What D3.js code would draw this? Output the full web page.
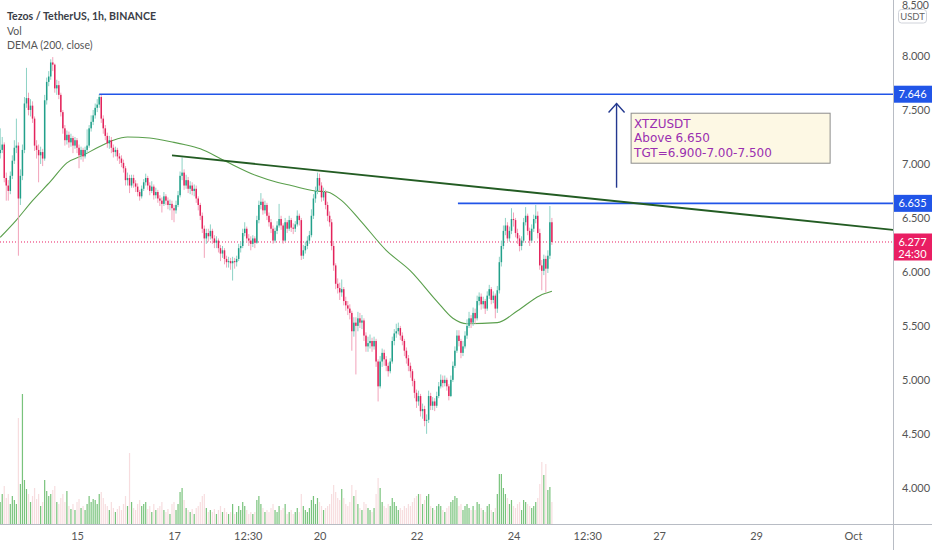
<!DOCTYPE html>
<html><head><meta charset="utf-8">
<script src="https://cdn.jsdelivr.net/npm/d3@7"></script>
<style>
html,body{margin:0;padding:0;background:#fff;}
svg{display:block;}
</style>
</head><body>
<svg id="c" width="932" height="550"></svg>
<script>
// ---------------- DATA ----------------
const title = "Tezos / TetherUS, 1h, BINANCE";
const legendLines = ["Vol", "DEMA (200, close)"];
const firstOpen = 7.10;
const closes = [
7.13,7.18,6.87,6.80,6.75,6.89,7.03,7.15,7.17,6.68,
6.89,7.13,7.56,7.61,7.50,7.54,7.42,7.17,7.13,7.08,
7.11,7.05,7.59,7.76,7.81,7.94,7.92,7.70,7.73,7.64,
7.48,7.33,7.22,7.27,7.20,7.24,7.17,7.22,7.15,7.08,
7.13,7.07,7.13,7.17,7.33,7.39,7.45,7.52,7.55,7.62,
7.42,7.33,7.26,7.19,7.22,7.15,7.11,7.13,7.07,7.05,
7.01,6.96,6.85,6.87,6.80,6.87,6.82,6.79,6.74,6.70,
6.77,6.83,6.87,6.80,6.75,6.79,6.71,6.74,6.68,6.66,
6.63,6.70,6.66,6.62,6.63,6.59,6.57,6.62,6.71,6.89,
6.92,6.80,6.85,6.77,6.80,6.75,6.77,6.68,6.62,6.52,
6.40,6.31,6.36,6.33,6.38,6.31,6.27,6.29,6.22,6.17,
6.20,6.12,6.09,6.10,6.08,6.10,6.09,6.12,6.22,6.24,
6.36,6.40,6.31,6.29,6.26,6.31,6.27,6.48,6.62,6.65,
6.57,6.62,6.52,6.46,6.40,6.29,6.38,6.43,6.49,6.43,
6.29,6.46,6.40,6.48,6.41,6.40,6.44,6.52,6.48,6.15,
6.20,6.24,6.29,6.34,6.52,6.68,6.75,6.87,6.80,6.69,
6.74,6.62,6.52,6.46,6.24,6.06,5.89,5.85,5.81,5.84,
5.73,5.69,5.66,5.62,5.45,5.53,5.50,5.57,5.53,5.55,
5.41,5.31,5.34,5.36,5.31,5.36,5.17,4.94,5.17,5.25,
5.19,5.13,5.08,5.17,5.36,5.43,5.45,5.48,5.41,5.36,
5.27,5.20,5.13,5.08,4.99,4.88,4.80,4.85,4.71,4.73,
4.62,4.63,4.85,4.76,4.80,4.76,4.85,4.94,5.00,4.97,
5.00,4.94,4.85,5.00,5.13,5.27,5.41,5.36,5.25,5.31,
5.41,5.50,5.57,5.53,5.62,5.57,5.73,5.77,5.70,5.73,
5.66,5.78,5.84,5.74,5.78,5.66,5.83,6.09,6.24,6.38,
6.43,6.31,6.38,6.49,6.48,6.36,6.31,6.24,6.29,6.46,
6.52,6.38,6.29,6.40,6.49,6.52,6.36,6.06,6.01,6.12,
6.03,6.15,6.46,6.277];
const highs = [
7.33,7.25,7.20,6.92,6.85,6.93,7.08,7.22,7.42,7.20,
6.95,7.18,7.62,7.89,7.66,7.60,7.58,7.44,7.22,7.18,
7.16,7.14,7.64,7.80,7.86,7.97,7.99,7.93,7.78,7.77,
7.66,7.50,7.36,7.31,7.30,7.28,7.26,7.25,7.24,7.18,
7.16,7.15,7.16,7.32,7.36,7.45,7.50,7.56,7.60,7.646,
7.64,7.45,7.36,7.29,7.26,7.25,7.18,7.16,7.15,7.10,
7.08,7.04,6.98,6.92,6.90,6.90,6.90,6.85,6.82,6.76,
6.80,6.86,6.91,6.89,6.83,6.84,6.81,6.78,6.76,6.71,
6.69,6.74,6.72,6.69,6.67,6.66,6.62,6.66,6.75,6.93,
7.06,6.95,6.90,6.88,6.84,6.83,6.81,6.80,6.70,6.64,
6.55,6.43,6.40,6.40,6.44,6.40,6.34,6.33,6.31,6.25,
6.24,6.22,6.15,6.14,6.13,6.14,6.13,6.15,6.26,6.28,
6.40,6.46,6.42,6.35,6.33,6.34,6.33,6.52,6.66,6.73,
6.68,6.66,6.64,6.55,6.49,6.43,6.41,6.47,6.63,6.52,
6.45,6.50,6.48,6.52,6.50,6.45,6.47,6.57,6.54,6.50,
6.25,6.28,6.33,6.38,6.58,6.72,6.79,6.92,6.91,6.83,
6.78,6.76,6.65,6.56,6.49,6.27,6.08,5.94,5.90,5.93,
5.86,5.77,5.73,5.70,5.64,5.58,5.58,5.63,5.62,5.60,
5.57,5.44,5.40,5.42,5.39,5.40,5.38,5.19,5.22,5.29,
5.28,5.22,5.16,5.20,5.40,5.47,5.52,5.53,5.50,5.44,
5.38,5.30,5.23,5.16,5.10,5.01,4.91,4.90,4.87,4.78,
4.76,4.68,4.90,4.88,4.84,4.83,4.89,4.98,5.05,5.04,
5.04,5.02,4.96,5.04,5.17,5.31,5.46,5.46,5.38,5.36,
5.45,5.56,5.63,5.60,5.67,5.66,5.78,5.81,5.80,5.77,
5.75,5.82,5.88,5.86,5.82,5.80,5.87,6.14,6.29,6.43,
6.50,6.46,6.42,6.59,6.55,6.50,6.40,6.34,6.33,6.50,
6.60,6.54,6.41,6.44,6.53,6.62,6.56,6.40,6.11,6.16,
6.15,6.20,6.61,6.50];
const lows = [
7.05,7.10,6.83,6.66,6.66,6.72,6.86,7.00,7.10,6.15,
6.62,6.85,7.10,7.52,7.45,7.44,7.38,7.12,7.05,6.83,
7.00,6.98,7.03,7.55,7.72,7.78,7.86,7.66,7.64,7.60,
7.44,7.28,7.17,7.18,7.15,7.16,7.10,7.14,7.10,6.96,
7.04,7.02,7.05,7.10,7.15,7.30,7.36,7.42,7.48,7.52,
7.38,7.28,7.22,7.15,7.14,7.10,7.06,7.07,7.03,7.00,
6.97,6.92,6.80,6.80,6.73,6.78,6.78,6.74,6.70,6.66,
6.68,6.75,6.80,6.76,6.71,6.73,6.67,6.68,6.64,6.61,
6.55,6.61,6.62,6.58,6.57,6.48,6.46,6.54,6.60,6.69,
6.85,6.76,6.77,6.73,6.72,6.71,6.70,6.64,6.57,6.48,
6.36,6.13,6.26,6.28,6.30,6.26,6.22,6.22,6.18,6.10,
6.13,6.07,6.04,6.04,6.02,5.92,6.03,6.05,6.10,6.18,
6.22,6.33,6.27,6.24,6.20,6.23,6.22,6.26,6.45,6.58,
6.53,6.54,6.48,6.42,6.36,6.26,6.27,6.35,6.41,6.39,
6.26,6.28,6.36,6.38,6.37,6.35,6.37,6.42,6.43,6.11,
6.12,6.17,6.21,6.26,6.32,6.49,6.64,6.72,6.75,6.65,
6.66,6.58,6.47,6.42,6.20,6.01,5.84,5.80,5.74,5.77,
5.69,5.64,5.60,5.56,5.27,5.40,5.05,5.45,5.48,5.47,
5.36,5.26,5.26,5.29,5.26,5.28,5.12,4.80,4.92,5.12,
5.13,5.08,5.03,5.06,5.15,5.32,5.39,5.42,5.37,5.32,
5.22,5.15,5.08,5.02,4.94,4.83,4.74,4.76,4.66,4.64,
4.57,4.50,4.60,4.72,4.72,4.71,4.74,4.83,4.92,4.93,
4.94,4.90,4.81,4.84,4.98,5.11,5.25,5.31,5.20,5.22,
5.29,5.38,5.48,5.48,5.50,5.52,5.55,5.69,5.65,5.66,
5.61,5.64,5.75,5.70,5.71,5.57,5.62,5.80,6.05,6.21,
6.34,6.27,6.28,6.35,6.42,6.32,6.26,6.19,6.20,6.27,
6.43,6.34,6.24,6.27,6.37,6.45,6.31,6.02,5.83,5.97,
5.81,5.99,6.12,6.25];
const volumes = [
22,30,38,26,30,20,28,24,20,106,
40,130,44,35,30,22,28,36,25,30,
18,22,44,33,28,30,34,38,22,20,
26,30,22,33,18,15,20,14,22,25,
16,18,14,20,28,22,25,24,20,30,
32,26,20,18,14,22,16,12,15,18,
14,20,28,18,71,22,16,14,20,24,
18,20,22,15,18,12,20,14,16,18,
22,14,12,15,10,20,22,14,20,32,
36,24,16,14,12,15,10,16,18,22,
28,30,16,12,14,12,15,10,14,18,
12,16,12,10,12,20,10,12,18,14,
22,18,14,10,12,10,12,24,28,20,
16,12,14,12,16,20,14,12,18,14,
16,20,10,12,14,10,12,16,12,30,
18,14,12,16,24,28,20,26,22,18,
14,16,18,20,30,39,32,26,24,35,
26,20,18,22,39,28,34,20,16,14,
22,20,16,14,12,16,30,46,36,22,
18,16,20,18,26,22,18,14,16,14,
18,16,20,18,22,26,28,30,30,20,
24,28,30,18,16,14,18,20,18,14,
12,16,18,22,24,28,26,18,20,14,
18,20,16,14,18,14,22,20,16,14,
12,18,20,14,12,16,30,50,50,36,
30,26,20,24,18,16,20,22,14,24,
22,20,18,16,18,22,26,40,62,49,
60,34,37,22];
// DEMA(200, close) read at selected bars
const demaIdx = [0,8,16,25,33,41,49,56,63,74,86,91,99,111,127,137,144,156,162,169,178,191,203,216,224,231,246,256,267,273];
const demaVal = [6.32,6.48,6.66,6.84,7.01,7.08,7.16,7.22,7.25,7.24,7.20,7.18,7.14,7.03,6.89,6.83,6.80,6.75,6.74,6.66,6.48,6.20,6.01,5.73,5.57,5.52,5.53,5.64,5.78,5.82];
// time axis: bar index (1h bars, index 38 = Sep 15 00:00)
const timeTickIdx = [38, 86, 122.5, 158, 206, 254, 290.5, 326, 374, 422];
const timeTickLabels = ["15","17","12:30","20","22","24","12:30","27","29","Oct"];
const priceTicks = [4.0,4.5,5.0,5.5,6.0,6.5,7.0,7.5,8.0];
const topTick = 8.5;
// drawings
const resistanceHigh = {from: 49, price: 7.646};
const resistanceLow  = {from: 226.5, price: 6.635};
const trendPts = [[85, 7.08], [441.8, 6.39]];
const arrowPts = [[305, 6.78], [305, 7.56]];
const noteAnchor = {idx: 312.2, price: 7.47};
const noteLines = ["XTZUSDT", "Above 6.650", "TGT=6.900-7.00-7.500"];
const lastPrice = 6.277;
const countdown = "24:30";

// ---------------- CHART ----------------
const W = 932, H = 550;
const plotRight = 893, volBase = 524;
const svg = d3.select("#c");
svg.append("rect").attr("width", W).attr("height", H).attr("fill", "#fff");

const x = d3.scaleLinear().domain([38, 422]).range([77, 853]);
const y = d3.scaleLinear().domain([4, 8]).range([487.8, 56]);
const vy = d3.scaleLinear().domain([0, 130]).range([volBase, 394]);

const bars = closes.map((c, i) => ({
  i, o: i === 0 ? firstOpen : closes[i - 1], h: highs[i], l: lows[i], c, v: volumes[i]
}));

svg.append("defs").append("clipPath").attr("id", "pc")
  .append("rect").attr("x", 0).attr("y", 0).attr("width", plotRight).attr("height", volBase);
const plot = svg.append("g").attr("clip-path", "url(#pc)");

// volume
plot.append("g").selectAll("rect").data(bars).join("rect")
  .attr("x", d => x(d.i) - 0.6).attr("width", 1.2)
  .attr("y", d => vy(d.v)).attr("height", d => volBase - vy(d.v))
  .attr("fill", d => d.c >= d.o ? "rgba(76,175,80,0.75)" : "rgba(235,170,175,0.4)");

// last price dotted line
plot.append("line").attr("x1", 0).attr("x2", plotRight)
  .attr("y1", y(lastPrice)).attr("y2", y(lastPrice))
  .attr("stroke", "#e91e63").attr("stroke-width", 1).attr("stroke-dasharray", "1,2");

// DEMA
plot.append("path").datum(demaIdx.map((d, k) => [d, demaVal[k]]))
  .attr("fill", "none").attr("stroke", "#5a9f4c").attr("stroke-width", 1.1)
  .attr("d", d3.line().x(d => x(d[0])).y(d => y(d[1])).curve(d3.curveMonotoneX));

// candles
const up = "#22a08a", dn = "#e3245c", upW = "#8dd2c5", dnW = "#f2a3ba";
const cg = plot.append("g");
cg.selectAll("line").data(bars).join("line")
  .attr("x1", d => x(d.i)).attr("x2", d => x(d.i))
  .attr("y1", d => y(Math.max(d.h, d.o, d.c))).attr("y2", d => y(Math.min(d.l, d.o, d.c)))
  .attr("stroke", d => d.c >= d.o ? upW : dnW).attr("stroke-width", 1);
cg.selectAll("rect").data(bars).join("rect")
  .attr("x", d => x(d.i) - 0.75).attr("width", 1.5)
  .attr("y", d => y(Math.max(d.o, d.c)))
  .attr("height", d => Math.max(1, Math.abs(y(d.o) - y(d.c))))
  .attr("fill", d => d.c >= d.o ? up : dn);

// horizontal levels
[resistanceHigh, resistanceLow].forEach(r => {
  plot.append("line").attr("x1", x(r.from)).attr("x2", plotRight)
    .attr("y1", y(r.price)).attr("y2", y(r.price))
    .attr("stroke", "#2155e8").attr("stroke-width", 1.6);
});

// trend line (extended right)
{
  const [a, b] = trendPts;
  plot.append("line").attr("x1", x(a[0])).attr("y1", y(a[1]))
    .attr("x2", x(b[0])).attr("y2", y(b[1]))
    .attr("stroke", "#235c23").attr("stroke-width", 1.8);
}

// arrow
{
  const [a, b] = arrowPts;
  const ax = x(a[0]), y0 = y(a[1]), y1 = y(b[1]);
  const g = plot.append("g").attr("stroke", "#23388f").attr("stroke-width", 1.4).attr("fill", "none");
  g.append("line").attr("x1", ax).attr("x2", ax).attr("y1", y0).attr("y2", y1);
  g.append("path").attr("d", `M${ax - 8},${y1 + 9}L${ax},${y1}L${ax + 8},${y1 + 9}`);
}

// note box
{
  const bx = x(noteAnchor.idx), by = y(noteAnchor.price);
  const g = svg.append("g");
  g.append("rect").attr("x", bx).attr("y", by).attr("width", 199).attr("height", 50)
    .attr("fill", "#fdf8e4").attr("stroke", "#8c8c8c").attr("stroke-width", 1);
  g.selectAll("text").data(noteLines).join("text")
    .attr("x", bx + 3).attr("y", (d, k) => by + 14.5 + k * 14.5)
    .attr("fill", "#9a2fb0").attr("font-family", "DejaVu Sans, Verdana, sans-serif")
    .attr("font-size", 12).text(d => d);
}

// axes frame
svg.append("line").attr("x1", plotRight + 0.5).attr("x2", plotRight + 0.5).attr("y1", 0).attr("y2", H)
  .attr("stroke", "#b8bcc4").attr("stroke-width", 1);
svg.append("line").attr("x1", 0).attr("x2", W).attr("y1", volBase + 0.5).attr("y2", volBase + 0.5)
  .attr("stroke", "#b8bcc4").attr("stroke-width", 1);

const fontAxis = "Lato, 'Open Sans', sans-serif";
// price axis
const ya = d3.axisRight(y).tickValues(priceTicks).tickFormat(d3.format(".3f")).tickSize(0).tickPadding(9);
const yg = svg.append("g").attr("transform", `translate(${plotRight},0)`).call(ya);
yg.select(".domain").remove();
yg.selectAll("text").attr("fill", "#555").attr("font-family", fontAxis).attr("font-size", 11);
// topmost tick (partly above the pane in the original) kept fully visible
svg.append("text").attr("x", plotRight + 9).attr("y", 8.5).attr("fill", "#555")
  .attr("font-family", fontAxis).attr("font-size", 10.5).text(d3.format(".3f")(topTick));

// time axis
const xa = d3.axisBottom(x).tickValues(timeTickIdx).tickFormat((d, k) => timeTickLabels[k]).tickSize(0).tickPadding(8);
const xg = svg.append("g").attr("transform", `translate(0,${volBase})`).call(xa);
xg.select(".domain").remove();
xg.selectAll("text").attr("fill", "#555").attr("font-family", fontAxis).attr("font-size", 11);

// USDT unit box
svg.append("rect").attr("x", 898.5).attr("y", 9.5).attr("width", 28).attr("height", 13.5).attr("rx", 3)
  .attr("fill", "#fff").attr("stroke", "#d0d3da");
svg.append("text").attr("x", 912.5).attr("y", 19.8).attr("text-anchor", "middle")
  .attr("fill", "#666").attr("font-family", fontAxis).attr("font-size", 9.5).text("USDT");

// price tags
function tag(price, color, lines) {
  const cy = y(price);
  const h = lines.length === 1 ? 17 : 27;
  const top = cy - 8.5;
  svg.append("rect").attr("x", plotRight + 1).attr("y", top).attr("width", W - plotRight - 1).attr("height", h)
    .attr("fill", color);
  lines.forEach((t, k) => {
    svg.append("text").attr("x", 912.5).attr("y", cy + 4 + k * 12).attr("text-anchor", "middle")
      .attr("fill", "#fff").attr("font-family", fontAxis).attr("font-size", 11).text(t);
  });
}
tag(resistanceHigh.price, "#2155e8", [d3.format(".3f")(resistanceHigh.price)]);
tag(resistanceLow.price, "#2155e8", [d3.format(".3f")(resistanceLow.price)]);
tag(lastPrice, "#e91e63", [d3.format(".3f")(lastPrice), countdown]);

// legend
svg.append("text").attr("x", 7).attr("y", 20).attr("fill", "#3b3e47").attr("font-weight", "bold")
  .attr("font-family", fontAxis).attr("font-size", 10.6).text(title);
legendLines.forEach((t, k) => {
  svg.append("text").attr("x", 7).attr("y", 34.5 + k * 14).attr("fill", "#555")
    .attr("font-family", fontAxis).attr("font-size", 10.5).text(t);
});
</script>
</body></html>
